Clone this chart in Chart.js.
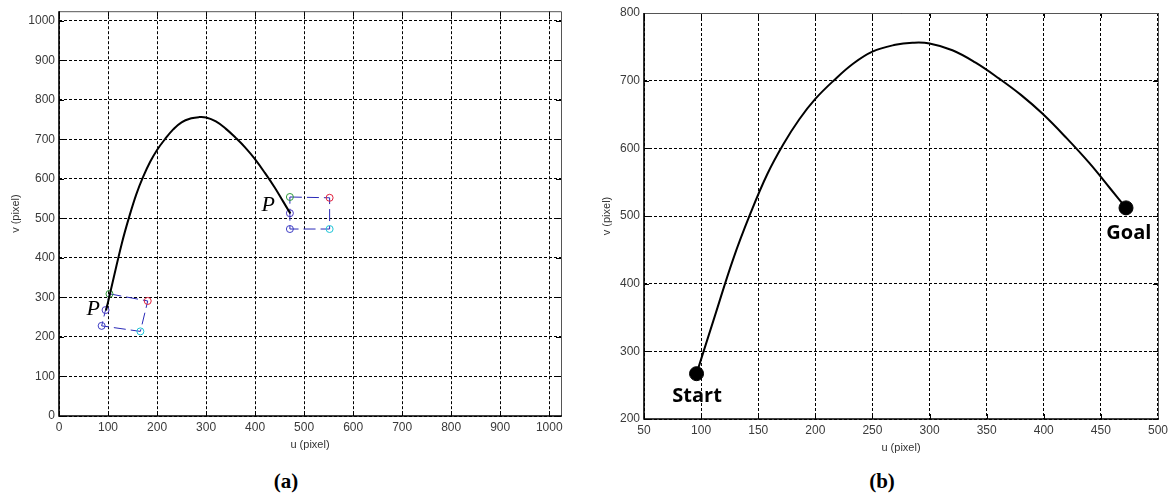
<!DOCTYPE html>
<html>
<head>
<meta charset="utf-8">
<script src="https://cdn.jsdelivr.net/npm/chart.js@4.4.1/dist/chart.umd.min.js"></script>
<style>
  html,body{margin:0;padding:0;background:#fff;}
  body{width:1172px;height:493px;position:relative;overflow:hidden;}
  canvas{position:absolute;top:0;}
  #ca{left:0;width:580px;height:452px;}
  #cb{left:580px;width:592px;height:455px;}
  .cap{position:absolute;font-family:"Liberation Serif","Times New Roman",serif;font-weight:bold;font-size:21px;line-height:21px;color:#000;transform:translateX(-50%);}
</style>
</head>
<body>
<canvas id="ca" width="580" height="452"></canvas>
<canvas id="cb" width="592" height="455"></canvas>
<div class="cap" style="left:286px;top:471px;">(a)</div>
<div class="cap" style="left:882px;top:471px;">(b)</div>
<script>
// ---- Trajectory (u, v in image pixels) ----
const pathU = [96, 112, 128, 143, 158, 172, 186, 200, 216, 233, 250, 270, 285, 300, 320, 340, 361, 380, 399, 420, 440, 458, 472];
const pathV = [267, 352, 436, 503, 562, 606, 643, 673, 700, 725, 743, 753, 756, 755, 745, 727, 703, 679, 651, 615, 578, 541, 512];

// ---- Feature square at start (green, red, cyan, blue corners, closed) ----
const sq1U = [103, 181, 166, 87, 103];
const sq1V = [309, 291, 214, 228, 309];
// ---- Feature square at goal ----
const sq2U = [471, 552, 552, 471, 471];
const sq2V = [554, 552, 473, 473, 554];
// corner markers: green, red, cyan, blue, P (blue)
const mk1U = [103, 181, 166, 87, 95];
const mk1V = [309, 291, 214, 228, 268];
const mk2U = [471, 552, 552, 471, 471];
const mk2V = [554, 552, 473, 473, 513];
const mkColors = ['#2e9a3a', '#e0203c', '#1ec4d6', '#3c3cc4', '#4a3ac0'];

// ---- P labels (panel a) ----
const pLabelU = [70, 427];
const pLabelV = [270, 532];

// ---- Start / Goal (panel b) ----
const endU = [96, 472];
const endV = [267, 512];
const endLabels = ['Start', 'Goal'];
const endLabelU = [96.5, 474.5];
const endLabelV = [234, 474];

// ---- Ticks ----
const ticksA = [0, 100, 200, 300, 400, 500, 600, 700, 800, 900, 1000];
const ticksBx = [50, 100, 150, 200, 250, 300, 350, 400, 450, 500];
const ticksBy = [200, 300, 400, 500, 600, 700, 800];

const pts = (us, vs) => us.map((u, i) => ({x: u, y: vs[i]}));

const TICKFONT = {family: '"Liberation Sans", Arial, sans-serif', size: 12};
const TITLEFONT = {family: '"Liberation Sans", Arial, sans-serif', size: 11};
const TICKCOLOR = '#3a3a3a';

const framePlugin = {
  id: 'frame',
  afterDatasetsDraw(chart) {
    const {ctx, chartArea: a, scales} = chart;
    ctx.save();
    ctx.setLineDash([]);
    ctx.strokeStyle = '#000';
    ctx.lineWidth = 1;
    const L = 5;
    scales.x.ticks.forEach(t => {
      const px = Math.round(scales.x.getPixelForValue(t.value)) + 0.5;
      ctx.beginPath();
      ctx.moveTo(px, a.bottom); ctx.lineTo(px, a.bottom - L);
      ctx.moveTo(px, a.top); ctx.lineTo(px, a.top + L);
      ctx.stroke();
    });
    scales.y.ticks.forEach(t => {
      const py = Math.round(scales.y.getPixelForValue(t.value)) + 0.5;
      ctx.beginPath();
      ctx.moveTo(a.left, py); ctx.lineTo(a.left + L, py);
      ctx.moveTo(a.right, py); ctx.lineTo(a.right - L, py);
      ctx.stroke();
    });
    ctx.strokeStyle = '#555';
    ctx.lineWidth = 1;
    ctx.beginPath();
    ctx.moveTo(a.left, a.top + 0.5); ctx.lineTo(a.right + 0.5, a.top + 0.5);
    ctx.lineTo(a.right + 0.5, a.bottom);
    ctx.stroke();
    ctx.strokeStyle = '#000';
    ctx.lineWidth = 1.6;
    ctx.beginPath();
    ctx.moveTo(a.left, a.top); ctx.lineTo(a.left, a.bottom); ctx.lineTo(a.right + 1, a.bottom);
    ctx.stroke();
    ctx.restore();
  }
};

const notesPlugin = {
  id: 'notes',
  afterDraw(chart, args, opts) {
    const {ctx, scales} = chart;
    ctx.save();
    (opts.items || []).forEach(it => {
      ctx.font = it.font;
      ctx.fillStyle = '#000';
      ctx.textAlign = 'center';
      ctx.textBaseline = 'middle';
      ctx.fillText(it.text, scales.x.getPixelForValue(it.u), scales.y.getPixelForValue(it.v));
    });
    ctx.restore();
  }
};

function makeScales(xTicks, yTicks, xmin, xmax, ymin, ymax, yW, yTitlePad, xH) {
  return {
    x: {
      type: 'linear', min: xmin, max: xmax,
      afterBuildTicks: s => { s.ticks = xTicks.map(v => ({value: v})); },
      afterFit: s => { s.height = xH; },
      ticks: {font: TICKFONT, color: TICKCOLOR, padding: 4, maxRotation: 0, autoSkip: false, callback: v => String(v)},
      grid: {color: '#000', lineWidth: 1, drawTicks: false},
      border: {display: false, dash: [3, 2]},
      title: {display: true, text: 'u (pixel)', font: TITLEFONT, color: '#333', padding: {top: 0, bottom: 0}}
    },
    y: {
      type: 'linear', min: ymin, max: ymax,
      afterBuildTicks: s => { s.ticks = yTicks.map(v => ({value: v})); },
      afterFit: s => { s.width = yW; },
      ticks: {font: TICKFONT, color: TICKCOLOR, padding: 4, autoSkip: false, callback: v => String(v)},
      grid: {color: '#000', lineWidth: 1, drawTicks: false},
      border: {display: false, dash: [3, 2]},
      title: {display: true, text: 'v (pixel)', font: TITLEFONT, color: '#333', padding: {top: yTitlePad, bottom: 0}}
    }
  };
}

const common = {
  responsive: false,
  animation: false,
  devicePixelRatio: 1,
  events: [],
};

// ---- Panel (a) ----
new Chart(document.getElementById('ca'), {
  type: 'scatter',
  data: {
    datasets: [
      {data: pts(pathU, pathV), showLine: true, borderColor: '#000', borderWidth: 2, pointRadius: 0, tension: 0.4, order: 1},
      {data: pts(sq1U, sq1V), showLine: true, borderColor: '#2a2ab8', borderWidth: 1, borderDash: [12, 5], pointRadius: 0, order: 3},
      {data: pts(sq2U, sq2V), showLine: true, borderColor: '#2a2ab8', borderWidth: 1, borderDash: [12, 5], pointRadius: 0, order: 3},
      {data: pts(mk1U, mk1V), showLine: false, pointRadius: 3.5, pointBorderWidth: 1, pointBackgroundColor: 'rgba(0,0,0,0)', pointBorderColor: mkColors, order: 2},
      {data: pts(mk2U, mk2V), showLine: false, pointRadius: 3.5, pointBorderWidth: 1, pointBackgroundColor: 'rgba(0,0,0,0)', pointBorderColor: mkColors, order: 2}
    ]
  },
  options: Object.assign({}, common, {
    layout: {padding: {left: 0, top: 11, right: 19, bottom: 0}},
    scales: makeScales(ticksA, ticksA, 0, 1024, 0, 1024, 59, 9, 36),
    plugins: {
      legend: {display: false}, tooltip: {enabled: false},
      notes: {items: pLabelU.map((u, i) => ({text: 'P', u: u, v: pLabelV[i], font: 'italic 22px "Liberation Serif", "Times New Roman", serif'}))}
    }
  }),
  plugins: [framePlugin, notesPlugin]
});

// ---- Panel (b) ----
new Chart(document.getElementById('cb'), {
  type: 'scatter',
  data: {
    datasets: [
      {data: pts(pathU, pathV), showLine: true, borderColor: '#000', borderWidth: 2, pointRadius: 0, tension: 0.4, order: 2},
      {data: pts(endU, endV), showLine: false, pointRadius: 7, pointBackgroundColor: '#000', pointBorderColor: '#000', order: 1}
    ]
  },
  options: Object.assign({}, common, {
    layout: {padding: {left: 0, top: 13, right: 13, bottom: 0}},
    scales: makeScales(ticksBx, ticksBy, 50, 500, 200, 800, 64, 20, 36),
    plugins: {
      legend: {display: false}, tooltip: {enabled: false},
      notes: {items: endLabels.map((t, i) => ({text: t, u: endLabelU[i], v: endLabelV[i], font: 'bold 20px "Open Sans", "Noto Sans", sans-serif'}))}
    }
  }),
  plugins: [framePlugin, notesPlugin]
});
</script>
</body>
</html>
